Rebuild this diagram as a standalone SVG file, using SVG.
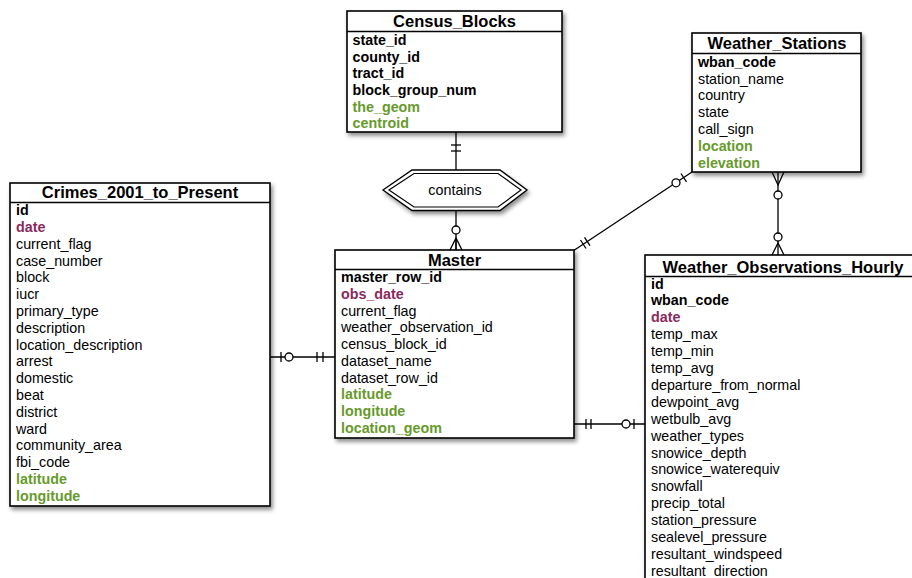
<svg xmlns="http://www.w3.org/2000/svg" width="912" height="578" viewBox="0 0 912 578">
<defs>
<filter id="sh" x="-10%" y="-10%" width="130%" height="130%">
<feDropShadow dx="2" dy="3" stdDeviation="2.2" flood-color="#000" flood-opacity="0.45"/>
</filter>
<style>
.box{fill:#fff;stroke:#000;stroke-width:1.6}
.div{stroke:#000;stroke-width:1.4}
.hd{font-family:"Liberation Sans",Arial,sans-serif;font-size:16.5px;font-weight:bold;fill:#000;text-anchor:middle}
.r{font-family:"Liberation Sans",Arial,sans-serif;font-size:14.3px;fill:#000}
.k{font-weight:bold}
.g{font-weight:bold;fill:#679a2c}
.p{font-weight:bold;fill:#8a2a5c}
.ln{stroke:#000;stroke-width:1.3;fill:none}
.ci{fill:#fff;stroke:#000;stroke-width:1.3}
</style>
</defs>
<rect width="912" height="578" fill="#fff"/>

<g id="connectors">
<!-- Census_Blocks - contains -->
<line class="ln" x1="456" y1="132" x2="456" y2="170"/>
<line class="ln" x1="451" y1="145" x2="461" y2="145"/>
<line class="ln" x1="451" y1="151" x2="461" y2="151"/>
<!-- contains - Master -->
<line class="ln" x1="456" y1="210" x2="456" y2="250"/>
<polyline class="ln" points="450,250 456,238 462,250"/>
<line class="ln" x1="456" y1="238" x2="456" y2="250"/>
<circle class="ci" cx="456" cy="230" r="4"/>
<!-- Weather_Stations - Master -->
<line class="ln" x1="692" y1="172" x2="573" y2="251"/>
<line class="ln" x1="681" y1="173.5" x2="686.5" y2="181.8"/>
<circle class="ci" cx="676" cy="182.8" r="4"/>
<line class="ln" x1="580.5" y1="240" x2="586" y2="248.5"/>
<line class="ln" x1="584.5" y1="237.3" x2="590" y2="245.6"/>
<!-- Weather_Stations - Weather_Observations_Hourly -->
<line class="ln" x1="778" y1="172" x2="778" y2="255"/>
<polyline class="ln" points="772,172 778,185 784,172"/>
<circle class="ci" cx="778" cy="195" r="4"/>
<circle class="ci" cx="778" cy="237" r="4"/>
<polyline class="ln" points="772,255 778,243 784,255"/>
<!-- Crimes - Master -->
<line class="ln" x1="270" y1="357" x2="335" y2="357"/>
<line class="ln" x1="281" y1="352" x2="281" y2="362"/>
<circle class="ci" cx="289" cy="357" r="4"/>
<line class="ln" x1="317" y1="352" x2="317" y2="362"/>
<line class="ln" x1="323" y1="352" x2="323" y2="362"/>
<!-- Master - Weather_Observations_Hourly -->
<line class="ln" x1="574" y1="424" x2="645" y2="424"/>
<line class="ln" x1="586" y1="419" x2="586" y2="429"/>
<line class="ln" x1="591" y1="419" x2="591" y2="429"/>
<circle class="ci" cx="626" cy="424" r="4"/>
<line class="ln" x1="634" y1="419" x2="634" y2="429"/>
</g>

<g id="contains">
<polygon points="383,190 412,170 500,170 527,190 500,210.5 412,210.5" fill="#fff" stroke="#000" stroke-width="1.3" filter="url(#sh)"/>
<polygon points="389,190 414,173.5 498,173.5 521,190 498,207 414,207" fill="none" stroke="#000" stroke-width="1.2"/>
<text class="r" x="455" y="195" text-anchor="middle">contains</text>
</g>

<g id="Census_Blocks">
<rect class="box" x="347" y="11" width="215" height="121" filter="url(#sh)"/>
<line class="div" x1="347" y1="31.5" x2="562" y2="31.5"/>
<text class="hd" x="454.5" y="26.5">Census_Blocks</text>
<text class="r k" x="352.5" y="44.8">state_id</text>
<text class="r k" x="352.5" y="61.5">county_id</text>
<text class="r k" x="352.5" y="78.2">tract_id</text>
<text class="r k" x="352.5" y="94.9">block_group_num</text>
<text class="r g" x="352.5" y="111.6">the_geom</text>
<text class="r g" x="352.5" y="128.3">centroid</text>
</g>

<g id="Weather_Stations">
<rect class="box" x="692" y="33" width="169" height="139" filter="url(#sh)"/>
<line class="div" x1="692" y1="53.5" x2="861" y2="53.5"/>
<text class="hd" x="777" y="48.5">Weather_Stations</text>
<text class="r k" x="698" y="66.8">wban_code</text>
<text class="r" x="698" y="83.6">station_name</text>
<text class="r" x="698" y="100.4">country</text>
<text class="r" x="698" y="117.2">state</text>
<text class="r" x="698" y="134">call_sign</text>
<text class="r g" x="698" y="150.8">location</text>
<text class="r g" x="698" y="167.6">elevation</text>
</g>

<g id="Crimes_2001_to_Present">
<rect class="box" x="10" y="183" width="260" height="323" filter="url(#sh)"/>
<line class="div" x1="10" y1="202.5" x2="270" y2="202.5"/>
<text class="hd" x="140" y="197.5">Crimes_2001_to_Present</text>
<text class="r k" x="16" y="215.2">id</text>
<text class="r p" x="16" y="232">date</text>
<text class="r" x="16" y="248.8">current_flag</text>
<text class="r" x="16" y="265.6">case_number</text>
<text class="r" x="16" y="282.4">block</text>
<text class="r" x="16" y="299.2">iucr</text>
<text class="r" x="16" y="316">primary_type</text>
<text class="r" x="16" y="332.8">description</text>
<text class="r" x="16" y="349.6">location_description</text>
<text class="r" x="16" y="366.4">arrest</text>
<text class="r" x="16" y="383.2">domestic</text>
<text class="r" x="16" y="400">beat</text>
<text class="r" x="16" y="416.8">district</text>
<text class="r" x="16" y="433.6">ward</text>
<text class="r" x="16" y="450.4">community_area</text>
<text class="r" x="16" y="467.2">fbi_code</text>
<text class="r g" x="16" y="484">latitude</text>
<text class="r g" x="16" y="500.8">longitude</text>
</g>

<g id="Master">
<rect class="box" x="335" y="250" width="239" height="188" filter="url(#sh)"/>
<line class="div" x1="335" y1="269.5" x2="574" y2="269.5"/>
<text class="hd" x="454.5" y="265.7">Master</text>
<text class="r k" x="341" y="282">master_row_id</text>
<text class="r p" x="341" y="298.7">obs_date</text>
<text class="r" x="341" y="315.5">current_flag</text>
<text class="r" x="341" y="332.2">weather_observation_id</text>
<text class="r" x="341" y="349">census_block_id</text>
<text class="r" x="341" y="365.7">dataset_name</text>
<text class="r" x="341" y="382.5">dataset_row_id</text>
<text class="r g" x="341" y="399.2">latitude</text>
<text class="r g" x="341" y="416">longitude</text>
<text class="r g" x="341" y="432.7">location_geom</text>
</g>

<g id="Weather_Observations_Hourly">
<rect class="box" x="645" y="255" width="276" height="340" filter="url(#sh)"/>
<line class="div" x1="645" y1="276.5" x2="921" y2="276.5"/>
<text class="hd" x="783" y="273">Weather_Observations_Hourly</text>
<text class="r k" x="651" y="288.5">id</text>
<text class="r k" x="651" y="305.4">wban_code</text>
<text class="r p" x="651" y="322.3">date</text>
<text class="r" x="651" y="339.2">temp_max</text>
<text class="r" x="651" y="356.1">temp_min</text>
<text class="r" x="651" y="373">temp_avg</text>
<text class="r" x="651" y="389.9">departure_from_normal</text>
<text class="r" x="651" y="406.8">dewpoint_avg</text>
<text class="r" x="651" y="423.7">wetbulb_avg</text>
<text class="r" x="651" y="440.6">weather_types</text>
<text class="r" x="651" y="457.5">snowice_depth</text>
<text class="r" x="651" y="474.4">snowice_waterequiv</text>
<text class="r" x="651" y="491.3">snowfall</text>
<text class="r" x="651" y="508.2">precip_total</text>
<text class="r" x="651" y="525.1">station_pressure</text>
<text class="r" x="651" y="542">sealevel_pressure</text>
<text class="r" x="651" y="558.9">resultant_windspeed</text>
<text class="r" x="651" y="575.8">resultant_direction</text>
</g>
</svg>
